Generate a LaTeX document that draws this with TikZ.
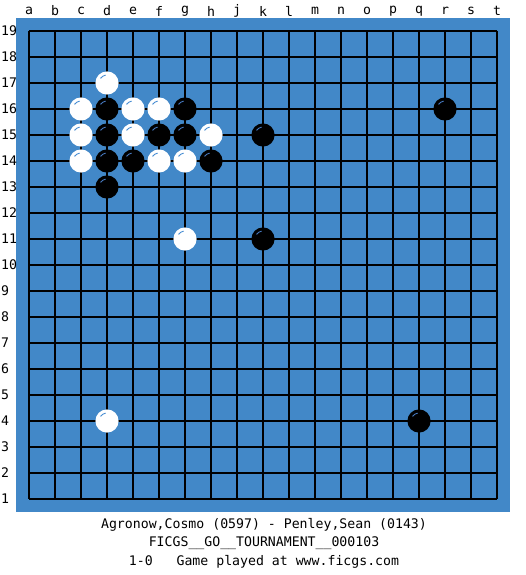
\documentclass[tikz,border=0pt]{standalone}
\usepackage{fontspec}
\setmonofont{DejaVu Sans Mono}
\definecolor{boardblue}{RGB}{66,136,200}
\definecolor{hlwhite}{RGB}{70,140,210}
\definecolor{hlblack}{RGB}{70,120,190}
\begin{document}
\begin{tikzpicture}[x=1pt,y=-1pt,
  lab/.style={font=\ttfamily\fontsize{13.2}{15}\selectfont, inner sep=0pt},
  gridline/.style={draw=black, line width=1.1pt},
  bstone/.style={fill=black},
  wstone/.style={fill=white}]
\useasboundingbox[fill=white] (0,0) rectangle (525,575);
\fill[boardblue] (16,18) rectangle (510,512);
% grid
\foreach \i in {0,...,18} {
  \draw[gridline] (29+26*\i,31) -- (29+26*\i,499);
  \draw[gridline] (29,31+26*\i) -- (497,31+26*\i);
}
% column labels
\foreach \c [count=\i from 0] in {a,b,c,d,e,f,g,h,j,k,l,m,n,o,p,q,r,s,t} {
  \node[lab] (col\c) at (29+26*\i,11) {\c};
}
% row labels
\foreach \r in {1,...,19} {
  \node[lab, anchor=west] (row\r) at (1,31+26*19-26*\r) {\r};
}
% black stones: column index (a=0), row number
\foreach \cx/\r in {3/16,3/15,3/14,4/14,5/15,6/16,6/15,7/14,3/13,9/15,9/11,16/16,15/4} {
  \fill[bstone] (29+26*\cx,31+26*19-26*\r) circle (11.6);
  \draw[hlblack, line width=0.9pt] (29+26*\cx,31+26*19-26*\r) ++(-100:8) arc (-100:-145:8);
}
% white stones
\foreach \cx/\r in {3/17,2/16,4/16,5/16,2/15,4/15,7/15,2/14,5/14,6/14,6/11,3/4} {
  \fill[wstone] (29+26*\cx,31+26*19-26*\r) circle (11.6);
  \draw[hlwhite, line width=0.9pt] (29+26*\cx,31+26*19-26*\r) ++(-100:8) arc (-100:-145:8);
}
% captions
\node[lab] (players) at (264,525) {Agronow,Cosmo (0597) - Penley,Sean (0143)};
\node[lab] (event) at (264,543) {FICGS\_\_GO\_\_TOURNAMENT\_\_000103};
\node[lab] (result) at (264,562) {1-0\ \ \ Game played at www.ficgs.com};
\end{tikzpicture}
\end{document}
